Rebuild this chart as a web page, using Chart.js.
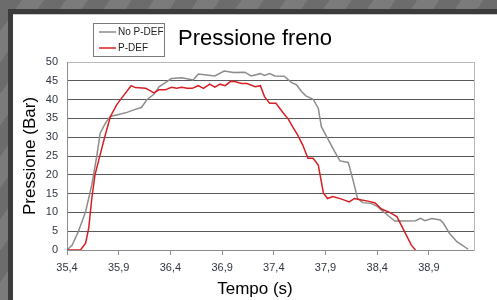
<!DOCTYPE html>
<html>
<head>
<meta charset="utf-8">
<script src="https://cdn.jsdelivr.net/npm/chart.js@4/dist/chart.umd.min.js"></script>
<style>
  html, body { margin: 0; padding: 0; }
  body {
    width: 497px; height: 300px; position: relative; overflow: hidden;
    background: repeating-linear-gradient(125deg, #6c6c6c 0 18px, #7b7b7b 18px 36px);
  }
  #panel {
    position: absolute; left: 8px; top: 9px; right: 0; bottom: 0;
    background: #fff;
    border-left: 5px solid #3b3b3b;
    border-top: 5px solid #3b3b3b;
    box-shadow: inset 0 1px 0 #c8c8c8;
  }
  #chart { position: absolute; left: 0; top: 0; }
</style>
</head>
<body>
<div id="panel"></div>
<canvas id="chart" width="497" height="300"></canvas>
<script>
// Tempo (s) / Pressione (Bar)
const noPdefTime = [35.40, 35.45, 35.51, 35.58, 35.64, 35.69, 35.72, 35.77, 35.82, 35.88, 35.98, 36.06,
  36.12, 36.17, 36.24, 36.29, 36.34, 36.41, 36.51, 36.62, 36.67, 36.77, 36.83, 36.92, 37.01, 37.12,
  37.18, 37.27, 37.31, 37.36, 37.41, 37.50, 37.57, 37.62, 37.67, 37.71, 37.78, 37.83, 37.86, 37.92,
  37.99, 38.04, 38.12, 38.17, 38.21, 38.26, 38.34, 38.40, 38.48, 38.57, 38.65, 38.77, 38.82, 38.86,
  38.93, 39.01, 39.04, 39.10, 39.17, 39.21, 39.28];
const noPdefValues = [0, 1.3, 4.9, 10.2, 17.3, 25.3, 31.0, 33.7, 35.6, 35.9, 36.6, 37.4,
  37.9, 39.9, 41.4, 43.4, 44.3, 45.6, 45.8, 45.2, 46.8, 46.5, 46.3, 47.6, 47.2, 47.3,
  46.3, 46.9, 46.4, 46.9, 46.3, 46.2, 44.6, 43.9, 42.1, 41.0, 40.1, 37.7, 32.8, 29.7,
  26.1, 23.7, 23.3, 18.2, 13.7, 12.6, 12.4, 11.6, 9.7, 7.7, 7.7, 7.8, 8.4, 7.8,
  8.4, 8.0, 7.1, 4.4, 2.2, 1.5, 0.2];

const pdefTime = [35.40, 35.53, 35.58, 35.61, 35.64, 35.67, 35.72, 35.77, 35.82, 35.88, 35.95, 36.02,
  36.06, 36.16, 36.19, 36.24, 36.29, 36.35, 36.41, 36.46, 36.51, 36.56, 36.61, 36.67, 36.72, 36.78,
  36.83, 36.88, 36.93, 36.98, 37.02, 37.09, 37.14, 37.22, 37.27, 37.31, 37.36, 37.42, 37.49, 37.54,
  37.59, 37.63, 37.68, 37.73, 37.78, 37.83, 37.88, 37.92, 37.97, 38.05, 38.13, 38.18, 38.25, 38.31,
  38.38, 38.44, 38.52, 38.59, 38.64, 38.69, 38.73, 38.77];
const pdefValues = [0, 0, 1.8, 5.8, 13.7, 19.9, 25.3, 30.6, 35.5, 38.6, 41.2, 43.7,
  43.2, 43.0, 42.6, 41.8, 42.6, 42.6, 43.3, 43.0, 43.3, 43.0, 43.0, 43.7, 43.0, 44.1,
  43.3, 44.1, 43.7, 44.8, 44.8, 44.3, 44.3, 43.4, 43.7, 40.8, 39.0, 39.0, 36.5, 34.8,
  32.4, 30.6, 27.9, 24.4, 24.4, 22.6, 15.1, 13.7, 14.2, 13.6, 12.8, 13.7, 13.3, 13.0,
  12.5, 10.9, 10.0, 8.9, 6.2, 3.5, 1.3, 0];

const xTicks = [35.4, 35.9, 36.4, 36.9, 37.4, 37.9, 38.4, 38.9];
const seriesNames = ['No P-DEF', 'P-DEF'];
const seriesColors = ['#8c8c8c', '#d81e22'];

const FONT = 'Liberation Sans, Arial, sans-serif';
const TICK_COLOR = '#2f3542';

const toPoints = (xs, ys) => xs.map((x, i) => ({ x, y: ys[i] }));

// boxed legend in the top left, like the spreadsheet one
const boxLegend = {
  id: 'boxLegend',
  afterDraw(chart) {
    const { ctx } = chart;
    ctx.save();
    ctx.strokeStyle = '#7a7a7a';
    ctx.lineWidth = 1;
    ctx.strokeRect(93.5, 23.5, 71, 33);
    ctx.font = '10px ' + FONT;
    ctx.textBaseline = 'middle';
    chart.data.datasets.forEach((ds, i) => {
      const y = 32 + i * 16;
      ctx.strokeStyle = ds.borderColor;
      ctx.lineWidth = 1.5;
      ctx.beginPath();
      ctx.moveTo(99, y);
      ctx.lineTo(116, y);
      ctx.stroke();
      ctx.fillStyle = '#222';
      ctx.fillText(ds.label, 118, y);
    });
    ctx.restore();
  },
};

new Chart(document.getElementById('chart'), {
  type: 'line',
  plugins: [boxLegend],
  data: {
    datasets: [{
      label: seriesNames[0],
      data: toPoints(noPdefTime, noPdefValues),
      borderColor: seriesColors[0],
      borderWidth: 1.5,
      order: 1,
    }, {
      label: seriesNames[1],
      data: toPoints(pdefTime, pdefValues),
      borderColor: seriesColors[1],
      borderWidth: 1.5,
      order: 0,
    }],
  },
  options: {
    responsive: false,
    animation: false,
    elements: { point: { radius: 0 }, line: { tension: 0 } },
    layout: { padding: { left: 13, right: 0, top: 0, bottom: 0 } },
    plugins: {
      legend: { display: false },
      tooltip: { enabled: false },
      title: {
        display: true,
        text: 'Pressione freno',
        color: '#000',
        font: { family: FONT, size: 22, weight: 'normal' },
        padding: { top: 26, bottom: 9.6 },
      },
      subtitle: {
        display: true,
        position: 'bottom',
        text: 'Tempo (s)',
        color: '#000',
        font: { family: FONT, size: 17, weight: 'normal' },
        padding: { top: 0, bottom: 0 },
      },
    },
    scales: {
      x: {
        type: 'linear',
        min: 35.4,
        max: 39.336,
        afterBuildTicks: (scale) => { scale.ticks = xTicks.map((v) => ({ value: v })); },
        afterFit: (scale) => { scale.height = 29.6; },
        ticks: {
          autoSkip: false,
          maxRotation: 0,
          padding: 6,
          color: TICK_COLOR,
          font: { family: FONT, size: 11 },
          callback: (v) => v.toFixed(1).replace('.', ','),
        },
        grid: { drawOnChartArea: false, drawTicks: true, tickLength: 5, color: '#8c8c8c' },
        border: { color: '#8c8c8c' },
      },
      y: {
        min: 0,
        max: 50,
        afterFit: (scale) => { scale.width = 54; },
        ticks: {
          stepSize: 5,
          padding: 9,
          color: TICK_COLOR,
          font: { family: FONT, size: 11 },
        },
        grid: {
          drawTicks: false,
          color: (c) => (c.tick && c.tick.value === 50 ? '#b8b8b8' : '#5a5a5a'),
        },
        border: { color: '#8c8c8c' },
        title: {
          display: true,
          text: 'Pressione (Bar)',
          color: '#000',
          font: { family: FONT, size: 17 },
          padding: { top: 6.8, bottom: 0 },
        },
      },
      yRight: {
        position: 'right',
        min: 0,
        max: 1,
        afterFit: (scale) => { scale.width = 23; },
        ticks: { display: false },
        grid: { display: false },
        border: { color: '#b8b8b8' },
      },
    },
  },
});
</script>
</body>
</html>
